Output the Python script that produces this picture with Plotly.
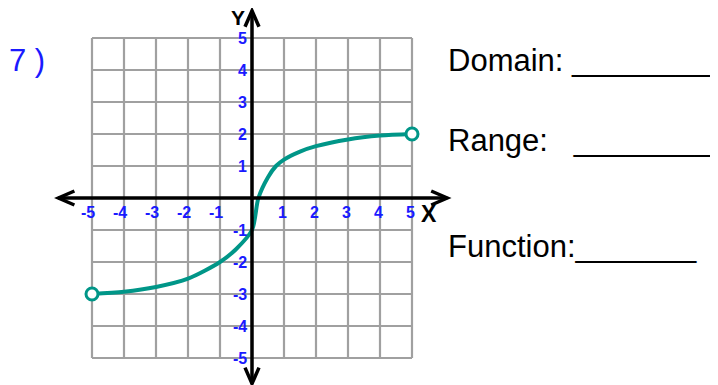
import plotly.graph_objects as go

# curve
curve_x = [-5, -4, -3, -2, -1, -0.5, 0, 0.2, 0.5, 0.75, 1, 1.5, 2, 3, 4, 5]
curve_y = [-3, -2.93, -2.78, -2.52, -2.0, -1.6, -1.0, 0.0, 0.65, 1.0, 1.2, 1.45, 1.62, 1.83, 1.95, 2.0]
end_x = [-5, 5]
end_y = [-3, 2]

ticks = [-5, -4, -3, -2, -1, 1, 2, 3, 4, 5]
grid = [-5, -4, -3, -2, -1, 0, 1, 2, 3, 4, 5]

W, H = 718, 385
OFF = 8  # page body margin
PX = 32  # pixels per unit
x0 = -5 - (92 - OFF) / PX
x1 = x0 + W / PX
y1 = 5 + (38 - OFF) / PX
y0 = y1 - H / PX

TEAL = '#009688'
BLUE = '#1a1aff'
GRID = '#a0a0a0'
FONT = 'Arial, Liberation Sans, sans-serif'

def px(x):
	return (x - OFF) / W

def py(y):
	return 1 - (y - OFF) / H

fig = go.Figure()

shapes = []
for g in grid:
	shapes.append(dict(type='line', x0=g, x1=g, y0=-5, y1=5, line=dict(color=GRID, width=2.2), layer='below'))
	shapes.append(dict(type='line', x0=-5, x1=5, y0=g, y1=g, line=dict(color=GRID, width=2.2), layer='below'))

# axes with chevron arrow heads
ax_l, ax_r = -6.05, 6.1
ay_t, ay_b = 5.85, -5.8
ah, aw = 16 / PX, 7 / PX
shapes += [
	dict(type='line', x0=ax_l, x1=ax_r, y0=0, y1=0, line=dict(color='black', width=3.5)),
	dict(type='line', x0=0, x1=0, y0=ay_b, y1=ay_t, line=dict(color='black', width=3.5)),
	dict(type='path', path=f'M {ax_l+ah} {aw} L {ax_l} 0 L {ax_l+ah} {-aw}', line=dict(color='black', width=3.5)),
	dict(type='path', path=f'M {ax_r-ah} {aw} L {ax_r} 0 L {ax_r-ah} {-aw}', line=dict(color='black', width=3.5)),
	dict(type='path', path=f'M {-aw} {ay_t-ah} L 0 {ay_t} L {aw} {ay_t-ah}', line=dict(color='black', width=3.5)),
	dict(type='path', path=f'M {-aw} {ay_b+ah} L 0 {ay_b} L {aw} {ay_b+ah}', line=dict(color='black', width=3.5)),
]

fig.add_trace(go.Scatter(
	x = curve_x, y = curve_y, mode = 'lines',
	line = dict(color=TEAL, width=4, shape='spline', smoothing=0.8),
	hoverinfo = 'skip'
))
fig.add_trace(go.Scatter(
	x = end_x, y = end_y, mode = 'markers',
	marker = dict(size=12, color='white', line=dict(color=TEAL, width=3)),
	cliponaxis = False, hoverinfo = 'skip'
))

tick_font = dict(family='Liberation Sans, Arial, sans-serif', size=16, color=BLUE, weight='bold')
ann = []
for t in ticks:
	ann.append(dict(x=t + 0.15, y=-0.45, text=f'<b>{t}</b>', showarrow=False, xanchor='right', yanchor='middle',
		font=tick_font))
	ann.append(dict(x=-0.1, y=t, text=f'<b>{t}</b>', showarrow=False, xanchor='right', yanchor='middle',
		font=tick_font))

ann += [
	dict(xref='paper', yref='paper', x=px(419), y=py(214), text='<b>X</b>', showarrow=False, xanchor='left', yanchor='middle',
		font=dict(family=FONT, size=23, color='black')),
	dict(xref='paper', yref='paper', x=px(247), y=py(17), text='<b>Y</b>', showarrow=False, xanchor='right', yanchor='middle',
		font=dict(family=FONT, size=21, color='black')),
	dict(xref='paper', yref='paper', x=px(7), y=py(61), text='7 )', showarrow=False, xanchor='left', yanchor='middle',
		font=dict(family=FONT, size=31, color=BLUE)),
	dict(xref='paper', yref='paper', x=px(446), y=py(61), text='Domain: ________', showarrow=False, xanchor='left', yanchor='middle',
		font=dict(family=FONT, size=31, color='black')),
	dict(xref='paper', yref='paper', x=px(446), y=py(140), text='Range:   ________', showarrow=False, xanchor='left', yanchor='middle',
		font=dict(family=FONT, size=31, color='black')),
	dict(xref='paper', yref='paper', x=px(446), y=py(246), text='Function:_______', showarrow=False, xanchor='left', yanchor='middle',
		font=dict(family=FONT, size=31, color='black')),
]

fig.update_layout(
	width = W, height = H,
	margin = dict(l=0, r=0, t=0, b=0),
	paper_bgcolor = 'white', plot_bgcolor = 'white',
	showlegend = False,
	shapes = shapes, annotations = ann,
	xaxis = dict(range=[x0, x1], visible=False, fixedrange=True),
	yaxis = dict(range=[y0, y1], visible=False, fixedrange=True),
)

fig.write_html('out.html')
